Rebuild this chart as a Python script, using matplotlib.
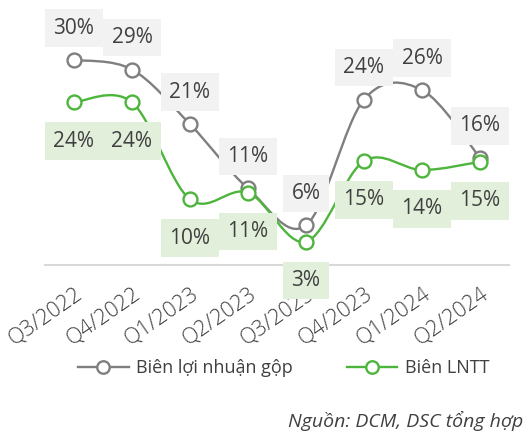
import numpy as np
import matplotlib
matplotlib.use('Agg')
import matplotlib.pyplot as plt
from matplotlib.path import Path
from matplotlib.patches import PathPatch
from matplotlib.lines import Line2D

plt.rcParams['font.family'] = ['Open Sans', 'DejaVu Sans']

# Data
quarters = ['Q3/2022', 'Q4/2022', 'Q1/2023', 'Q2/2023',
            'Q3/2023', 'Q4/2023', 'Q1/2024', 'Q2/2024']
grossMargin = [30.0, 28.6, 20.6, 11.2, 5.8, 24.2, 25.6, 15.7]  # %
pretaxMargin = [23.8, 23.8, 9.6, 10.6, 3.4, 15.2, 13.9, 15.1]  # %

grayCol = '#7f7f7f'
greenCol = '#4db53c'
textCol = '#404040'


def smooth_path(xs, ys):
    """Excel-like smoothed line as cubic bezier segments through the points."""
    pts = np.column_stack([xs, ys]).astype(float)
    n = len(pts)
    verts = [pts[0]]
    codes = [Path.MOVETO]
    for i in range(n - 1):
        p0 = pts[max(i - 1, 0)]
        p1 = pts[i]
        p2 = pts[i + 1]
        p3 = pts[min(i + 2, n - 1)]
        c1 = p1 + (p2 - p0) / 6.0
        c2 = p2 - (p3 - p1) / 6.0
        verts += [c1, c2, p2]
        codes += [Path.CURVE4] * 3
    return Path(verts, codes)


fig = plt.figure(figsize=(5.30, 4.37), dpi=100)
ax = fig.add_axes([45/530, (437-265)/437, 464/530, 257/437])

x = np.arange(len(quarters))

for vals, col in [(grossMargin, grayCol), (pretaxMargin, greenCol)]:
    ax.add_patch(PathPatch(smooth_path(x, vals), fill=False, edgecolor=col,
                           linewidth=1.7, zorder=3, clip_on=False))
    ax.plot(x, vals, linestyle='none', marker='o', markersize=10,
            markerfacecolor='white', markeredgecolor=col, markeredgewidth=1.7,
            zorder=4, clip_on=False)

# Data labels
for xi, v in zip(x, grossMargin):
    ax.annotate(f'{v:.0f}%', (xi, v), xytext=(0, 23), textcoords='offset points',
                ha='center', va='center', fontsize=15, color=textCol, zorder=5,
                bbox=dict(boxstyle='square,pad=0.4', facecolor='#f2f2f2', edgecolor='none'))
for xi, v in zip(x, pretaxMargin):
    ax.annotate(f'{v:.0f}%', (xi, v), xytext=(0, -28), textcoords='offset points',
                ha='center', va='center', fontsize=15, color=textCol, zorder=5,
                bbox=dict(boxstyle='square,pad=0.4', facecolor='#e2efda', edgecolor='none'))

ax.set_xlim(-0.5, 7.5)
ax.set_ylim(0, 37.6)
ax.set_xticks(x)
ax.set_xticklabels(quarters, rotation=35, ha='right', va='top',
                   rotation_mode='anchor', fontsize=15.5, color=textCol,
                   fontweight='light')
ax.tick_params(axis='x', length=0, pad=13)
ax.set_yticks([])
for s in ['top', 'right', 'left']:
    ax.spines[s].set_visible(False)
ax.spines['bottom'].set_color('#d9d9d9')
ax.spines['bottom'].set_linewidth(1.5)
ax.spines['bottom'].set_zorder(1)

handles = [
    Line2D([], [], color=grayCol, linewidth=1.7, marker='o', markersize=9,
           markerfacecolor='white', markeredgewidth=1.7),
    Line2D([], [], color=greenCol, linewidth=1.7, marker='o', markersize=9,
           markerfacecolor='white', markeredgewidth=1.7),
]
fig.legend(handles, ['Biên lợi nhuận gộp', 'Biên LNTT'], loc='center',
           bbox_to_anchor=(0.535, 1 - 368/437), ncol=2, frameon=False,
           fontsize=13, labelcolor=textCol, handlelength=2.8, columnspacing=3.0,
           handletextpad=0.4)

fig.text(523/530, 1 - 421/437, 'Nguồn: DCM, DSC tổng hợp', ha='right', va='center',
         fontsize=14, style='italic', color=textCol)

fig.savefig('out.png', dpi=100)
